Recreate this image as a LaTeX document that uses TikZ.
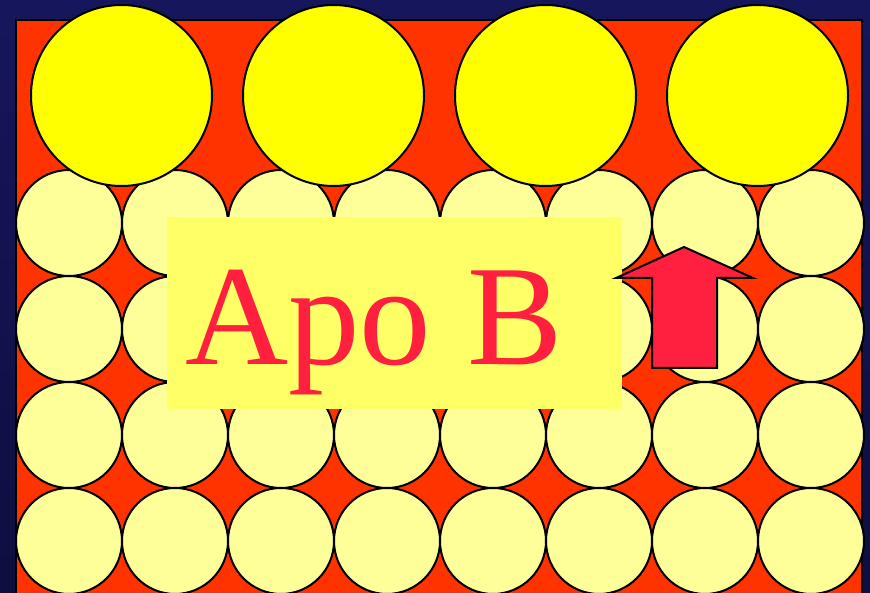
\documentclass[tikz,border=0pt]{standalone}
\usepackage{fontspec}
\setmainfont{Liberation Serif}
\definecolor{navytop}{HTML}{16165C}
\definecolor{navybot}{HTML}{0E0E40}
\definecolor{panel}{HTML}{FF3300}
\definecolor{bigyel}{HTML}{FFFF00}
\definecolor{smallyel}{HTML}{FFFF99}
\definecolor{labelyel}{HTML}{FFFF66}
\definecolor{apored}{HTML}{FF1F3F}
\definecolor{apotext}{HTML}{FF1F3F}
\tikzset{
  bigcirc/.style={circle, draw=black, line width=2pt, fill=bigyel, minimum size=181pt, inner sep=0pt},
  smallcirc/.style={circle, draw=black, line width=2pt, fill=smallyel, minimum size=106pt, inner sep=0pt},
  labelbox/.style={fill=labelyel, draw=none, anchor=north west, minimum width=455pt, minimum height=192pt, inner sep=0pt},
  arrowshape/.style={fill=apored, draw=black, line width=2pt, line join=miter}
}
\begin{document}
\begin{tikzpicture}[x=1pt,y=-1pt]
\useasboundingbox (0,0) rectangle (870,593);
\shade[top color=navytop, bottom color=navybot] (0,0) rectangle (870,593);
\draw[fill=panel, line width=2pt] (16,20) rectangle (862,600);
\foreach \r/\y in {1/223,2/329,3/435,4/541}{
  \foreach \c in {0,...,7}{
    \node[smallcirc] (s\r\c) at ({69+106*\c},\y) {};
  }
}
\foreach \c in {0,...,3}{
  \node[bigcirc] (b\c) at ({121.5+212*\c},95.5) {};
}
\node[labelbox] (lab) at (167,217) {};
\node[anchor=base west, inner sep=0pt, text=apotext, font=\fontsize{143}{146}\selectfont] (apo) at (185,365) {Apo B};
\draw[arrowshape] (684,247) -- (753,278) -- (717,278) -- (717,368) -- (652,368) -- (652,278) -- (616,278) -- cycle;
\end{tikzpicture}
\end{document}
